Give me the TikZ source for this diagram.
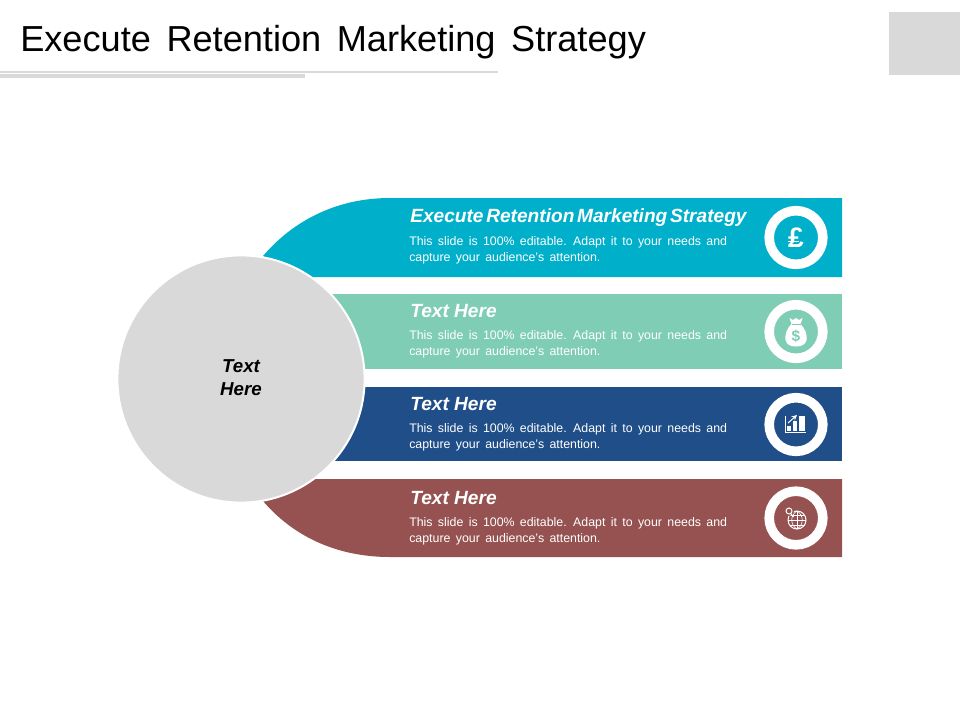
\documentclass[tikz,border=0pt]{standalone}
\usepackage{fontspec}
\setmainfont{Liberation Sans}
\newcommand{\widespaces}{\spaceskip=0.431em\relax}
\newcommand{\tightspaces}{\spaceskip=0.14em\relax}
\definecolor{bandteal}{HTML}{00B0CA}
\definecolor{bandmint}{HTML}{7FCDB4}
\definecolor{bandnavy}{HTML}{1F4E89}
\definecolor{bandbrown}{HTML}{955251}
\definecolor{hubgray}{HTML}{D9D9D9}
\tikzset{
	headtext/.style={anchor=west,text=white,font=\fontsize{13.6pt}{16pt}\selectfont\bfseries\itshape,inner sep=0pt},
	bodytext/.style={anchor=west,text=white,align=left,inner sep=0pt,font=\fontsize{8.8pt}{11.4pt}\selectfont\widespaces},
	ringnode/.style={circle,draw=white,line width=2.4mm,minimum size=13.4mm,inner sep=0pt},
	iconline/.style={white,line width=0.25mm}
}
\begin{document}
\begin{tikzpicture}[x=0.25mm,y=-0.25mm]
\useasboundingbox (0,0) rectangle (960,720);
% header
\node (title) at (20,42) [anchor=west,inner sep=0pt,font=\fontsize{25.72pt}{30pt}\selectfont\widespaces] {Execute Retention Marketing Strategy};
\fill [hubgray] (889,12) rectangle (960,75);
\fill [hubgray] (0,71) rectangle (498,73);
\fill [hubgray] (0,74) rectangle (305,78);
% bands
\fill [bandteal] (263,256) .. controls (292,222) and (335,198) .. (390,198)
	-- (842,198) -- (842,277) -- (300,277) -- cycle;
\fill [bandmint] (300,294) rectangle (842,369);
\fill [bandnavy] (300,387) rectangle (842,461);
\fill [bandbrown] (263,501) .. controls (292,535) and (335,557) .. (390,557)
	-- (842,557) -- (842,479) -- (300,479) -- cycle;
% hub
\node (hub) at (241,379) [circle,fill=hubgray,draw=white,line width=0.5mm,minimum size=61.8mm,inner sep=0pt] {};
\node (hubtext) at (241,377.5) [align=center,inner sep=0pt,font=\fontsize{13.3pt}{16.3pt}\selectfont\bfseries\itshape] {Text\\Here};
% texts
\node (head1) at (410,217.5) [headtext,font=\fontsize{13.6pt}{16pt}\selectfont\bfseries\itshape\tightspaces] {Execute Retention Marketing Strategy};
\node (body1) at (409,250) [bodytext] {This slide is 100\% editable. Adapt it to your needs and\\capture your audience's attention.};
\node (head2) at (410,311) [headtext] {Text Here};
\node (body2) at (409,344) [bodytext] {This slide is 100\% editable. Adapt it to your needs and\\capture your audience's attention.};
\node (head3) at (410,404) [headtext] {Text Here};
\node (body3) at (409,437) [bodytext] {This slide is 100\% editable. Adapt it to your needs and\\capture your audience's attention.};
\node (head4) at (410,498) [headtext] {Text Here};
\node (body4) at (409,531) [bodytext] {This slide is 100\% editable. Adapt it to your needs and\\capture your audience's attention.};
% rings
\node (ring1) at (796,237.5) [ringnode] {};
\node (ring2) at (796,331.5) [ringnode] {};
\node (ring3) at (796,424.5) [ringnode] {};
\node (ring4) at (796,518) [ringnode] {};
% pound
\node (pound) at (ring1) [text=white,inner sep=0pt,font=\fontsize{20pt}{24pt}\selectfont\bfseries] {£};
\draw [iconline] (788,241.5)--(799,241.5);
% money bag
\fill [white] (789.5,318) -- (793,320) -- (796,318) -- (799,320) -- (802.5,318) -- (800.5,324)
	.. controls (805,328) and (807.5,335) .. (806.5,340)
	.. controls (805.5,345) and (801,346.5) .. (796,346.5)
	.. controls (791,346.5) and (786.5,345) .. (785.5,340)
	.. controls (784.5,335) and (787,328) .. (791.5,324) -- cycle;
\draw [bandmint,line width=0.2mm] (791.5,324)--(800.5,324);
\node (dollar) at (796,336) [text=bandmint,inner sep=0pt,font=\fontsize{11pt}{12pt}\selectfont\bfseries] {\$};
% chart
\draw [iconline] (785,416)--(785,432.5)--(806,432.5);
\fill [white] (787,426) rectangle (790.5,431);
\fill [white] (792.5,421) rectangle (796.5,431);
\fill [white] (798.5,415.5) rectangle (805,431);
\draw [iconline,-stealth] (788,423)--(797,415);
% globe
\draw [iconline] (797,520) circle [radius=9];
\draw [iconline,line width=0.15mm] (788,520)--(806,520) (797,511)--(797,529)
	(789.5,515)--(804.5,515) (789.5,525)--(804.5,525);
\draw [iconline,line width=0.15mm] (797,511) .. controls (790,515) and (790,525) .. (797,529);
\draw [iconline,line width=0.15mm] (797,511) .. controls (804,515) and (804,525) .. (797,529);
\fill [bandbrown] (789,511) circle [radius=5];
\draw [iconline] (789,511) circle [radius=3] (791,514)--(793.5,517);
\end{tikzpicture}
\end{document}
